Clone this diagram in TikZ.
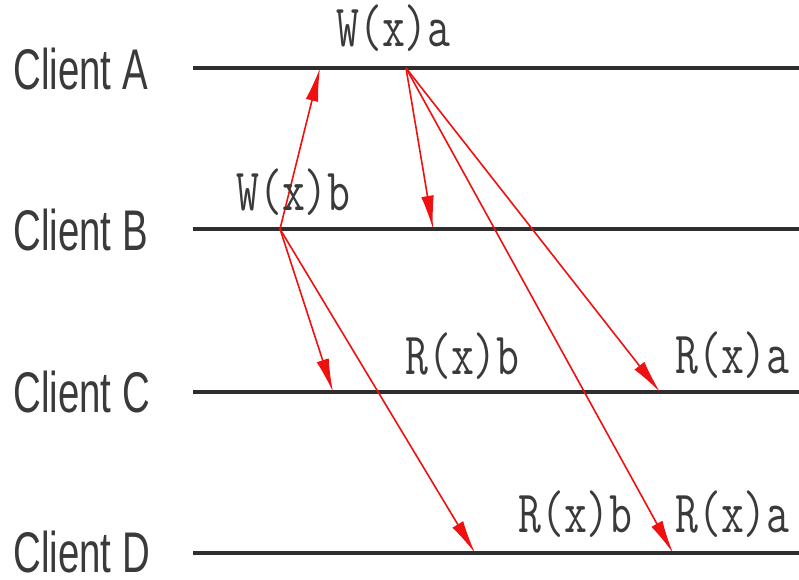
\documentclass[tikz,border=0pt]{standalone}
\usepackage{fontspec}
\usetikzlibrary{arrows.meta}
\newfontfamily\clientfont[FakeStretch=0.67]{Liberation Sans}
\newfontfamily\opfont[FakeStretch=0.74]{Latin Modern Mono}
\definecolor{linegray}{HTML}{2E2E2E}
\definecolor{textgray}{HTML}{3A3A3A}
\definecolor{msgred}{HTML}{F01010}
\begin{document}
\begin{tikzpicture}[x=0.75pt,y=-0.75pt,
  client/.style={anchor=west, inner sep=0pt, font=\clientfont\fontsize{43}{43}\selectfont, text=textgray},
  op/.style={anchor=base west, inner sep=0pt, font=\opfont\fontsize{45}{45}\selectfont, text=textgray},
  timeline/.style={draw=linegray, line width=2.6pt},
  msg/.style={draw=msgred, line width=1.2pt, -{Latex[length=25pt,width=9.5pt]}}]
\useasboundingbox (0,0) rectangle (799,579);
% timelines
\coordinate (A1) at (193,68);  \coordinate (A2) at (799,68);
\coordinate (B1) at (193,229); \coordinate (B2) at (799,229);
\coordinate (C1) at (193,392); \coordinate (C2) at (799,392);
\coordinate (D1) at (193,553); \coordinate (D2) at (799,553);
\draw[timeline] (A1) -- (A2);
\draw[timeline] (B1) -- (B2);
\draw[timeline] (C1) -- (C2);
\draw[timeline] (D1) -- (D2);
% client labels
\node[client] (la) at (13,69)  {Client A};
\node[client] (lb) at (13,230) {Client B};
\node[client] (lc) at (13,392) {Client C};
\node[client] (ld) at (13,552) {Client D};
% events
\coordinate (wa) at (406,68);
\coordinate (wb) at (280,229);
\coordinate (ab) at (433,229);
\coordinate (ac) at (660,392);
\coordinate (ad) at (673,553);
\coordinate (ba) at (320,68);
\coordinate (bc) at (333,392);
\coordinate (bd) at (475,553);
% messages
\draw[msg] (wb) -- (ba);
\draw[msg] (wa) -- (ab);
\draw[msg] (wa) -- (ac);
\draw[msg] (wa) -- (ad);
\draw[msg] (wb) -- (bc);
\draw[msg] (wb) -- (bd);
% operation labels
\node[op] (opwa) at (336,46)  {W(x)a};
\node[op] (opwb) at (236,210) {W(x)b};
\node[op] (oprcb) at (405,374) {R(x)b};
\node[op] (oprca) at (675,373) {R(x)a};
\node[op] (oprdb) at (518,532) {R(x)b};
\node[op] (oprda) at (675,532) {R(x)a};
\end{tikzpicture}
\end{document}
